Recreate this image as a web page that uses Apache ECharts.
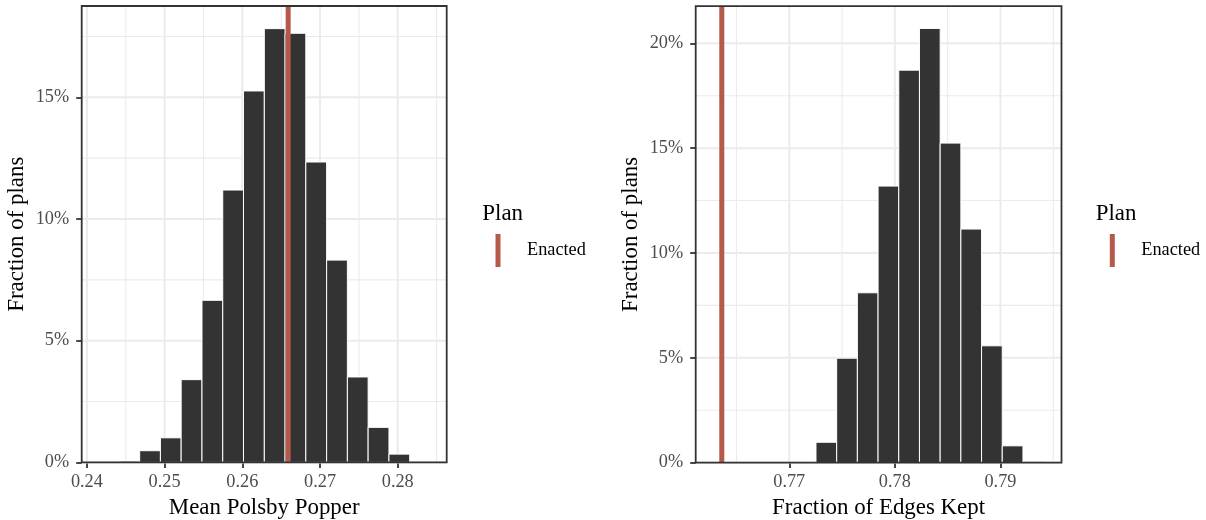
<!DOCTYPE html>
<html>
<head>
<meta charset="utf-8">
<script src="https://cdn.jsdelivr.net/npm/echarts@6/dist/echarts.min.js"></script>
<style>
  html, body { margin: 0; padding: 0; background: #ffffff; }
  #chart { width: 1206px; height: 520px; }
</style>
</head>
<body>
<div id="chart"></div>
<script>
// Histogram of mean Polsby-Popper compactness across simulated plans (bin edges, % of plans)
const ppEdges = [0.24144, 0.24411, 0.24679, 0.24946, 0.25213, 0.25481, 0.25748, 0.26015, 0.26283,
                 0.26550, 0.26817, 0.27085, 0.27352, 0.27619, 0.27887, 0.28154, 0.28421];
const ppShares = [0, 0.05, 0.48, 1.01, 3.40, 6.66, 11.19, 15.26, 17.82, 17.63, 12.34, 8.31, 3.51, 1.44, 0.34, 0];
const ppEnacted = 0.2659;

// Histogram of the fraction of edges kept across simulated plans
const ekEdges = [0.76273, 0.76469, 0.76665, 0.76861, 0.77057, 0.77253, 0.77449, 0.77645, 0.77841,
                 0.78037, 0.78233, 0.78429, 0.78625, 0.78821, 0.79017, 0.79213, 0.79409];
const ekShares = [0, 0, 0, 0, 0, 0.97, 4.98, 8.10, 13.19, 18.72, 20.71, 15.24, 11.14, 5.57, 0.80, 0.06];
const ekEnacted = 0.76361;

// Axis breaks
const ppXBreaks = [0.24, 0.25, 0.26, 0.27, 0.28];
const ppXMinor = [0.245, 0.255, 0.265, 0.275, 0.285];
const ppYBreaks = [0, 5, 10, 15];
const ppYMinor = [2.5, 7.5, 12.5, 17.5];
const ekXBreaks = [0.77, 0.78, 0.79];
const ekXMinor = [0.765, 0.775, 0.785, 0.795];
const ekYBreaks = [0, 5, 10, 15, 20];
const ekYMinor = [2.5, 7.5, 12.5, 17.5];

// Panel ranges
const ppXRange = [0.23933, 0.28630];
const ppYMax = 18.75;
const ekXRange = [0.76114, 0.79578];
const ekYMax = 21.77;

const FONT = "'Liberation Serif', 'DejaVu Serif', serif";
const BAR_FILL = '#333333';
const ENACTED = '#B5594B';
const GRID_COLOR = '#EBEBEB';
const INK = '#333333';

function binRows(edges, shares) {
  return shares.map((s, i) => [edges[i], edges[i + 1], s]);
}

function histSeries(idx, rows) {
  return {
    type: 'custom', xAxisIndex: idx, yAxisIndex: idx, z: 2, silent: true,
    encode: { x: [0, 1], y: 2 },
    data: rows,
    renderItem(params, api) {
      const h = api.value(2);
      if (!(h > 0)) return null;
      const tl = api.coord([api.value(0), h]);
      const br = api.coord([api.value(1), 0]);
      return {
        type: 'rect',
        shape: { x: tl[0], y: tl[1], width: br[0] - tl[0], height: br[1] - tl[1] },
        style: { fill: BAR_FILL, stroke: '#FFFFFF', lineWidth: 1 }
      };
    }
  };
}

function vLines(idx, values, yRef, width, color, z, name) {
  return {
    type: 'custom', name: name, xAxisIndex: idx, yAxisIndex: idx, z: z, silent: true,
    itemStyle: { color: color },
    data: values.map(v => [v, yRef]),
    renderItem(params, api) {
      const cs = params.coordSys;
      const x = api.coord([api.value(0), api.value(1)])[0];
      return {
        type: 'line',
        shape: { x1: x, y1: cs.y, x2: x, y2: cs.y + cs.height },
        style: { stroke: color, lineWidth: width }
      };
    }
  };
}

function hLines(idx, values, xRef, width, color, z) {
  return {
    type: 'custom', xAxisIndex: idx, yAxisIndex: idx, z: z, silent: true,
    data: values.map(v => [xRef, v]),
    renderItem(params, api) {
      const cs = params.coordSys;
      const y = api.coord([api.value(0), api.value(1)])[1];
      return {
        type: 'line',
        shape: { x1: cs.x, y1: y, x2: cs.x + cs.width, y2: y },
        style: { stroke: color, lineWidth: width }
      };
    }
  };
}

function xAxisFor(idx, range, breaks, title) {
  return {
    type: 'value', gridIndex: idx, min: range[0], max: range[1],
    name: title, nameLocation: 'middle', nameGap: 31,
    nameTextStyle: { fontFamily: FONT, fontSize: 22.9, color: '#000000' },
    axisLine: { show: false },
    axisTick: { show: true, customValues: breaks, length: 5.5, lineStyle: { color: INK, width: 1.8 } },
    axisLabel: { customValues: breaks, margin: 11, fontFamily: FONT, fontSize: 18.3, color: '#4D4D4D',
                 formatter: v => v.toFixed(2) },
    splitLine: { show: false }
  };
}

function yAxisFor(idx, yMax, breaks) {
  return {
    type: 'value', gridIndex: idx, min: 0, max: yMax,
    name: 'Fraction of plans', nameLocation: 'middle', nameGap: 53, nameRotate: 90,
    nameTextStyle: { fontFamily: FONT, fontSize: 22.9, color: '#000000' },
    axisLine: { show: false },
    axisTick: { show: true, customValues: breaks, length: 5.5, lineStyle: { color: INK, width: 1.8 } },
    axisLabel: { customValues: breaks, margin: 12.5, fontFamily: FONT, fontSize: 18.3, color: '#4D4D4D',
                 formatter: v => Math.round(v) + '%' },
    splitLine: { show: false }
  };
}

function legendFor(left) {
  return {
    left: left, top: 234, orient: 'vertical', padding: 0, selectedMode: false,
    icon: 'rect', itemWidth: 5, itemHeight: 33,
    data: [{ name: 'Enacted', itemStyle: { color: ENACTED } }],
    textStyle: { fontFamily: FONT, fontSize: 18.3, color: '#000000', padding: [2, 0, 0, 21.5] }
  };
}

const chart = echarts.init(document.getElementById('chart'), null, { renderer: 'canvas' });

chart.setOption({
  backgroundColor: '#FFFFFF',
  animation: false,
  title: [
    { text: 'Plan', left: 482.3, top: 202.5, padding: 0,
      textStyle: { fontFamily: FONT, fontSize: 22.9, fontWeight: 'normal', color: '#000000' } },
    { text: 'Plan', left: 1095.7, top: 202.5, padding: 0,
      textStyle: { fontFamily: FONT, fontSize: 22.9, fontWeight: 'normal', color: '#000000' } }
  ],
  legend: [legendFor(495.5), legendFor(1109.8)],
  grid: [
    { left: 81.7, top: 6, width: 365, height: 456.4, show: true, z: 10,
      outerBoundsMode: 'none', containLabel: false,
      backgroundColor: 'transparent', borderColor: INK, borderWidth: 1.8 },
    { left: 695.7, top: 6.2, width: 365.8, height: 456.4, show: true, z: 10,
      outerBoundsMode: 'none', containLabel: false,
      backgroundColor: 'transparent', borderColor: INK, borderWidth: 1.8 }
  ],
  xAxis: [
    xAxisFor(0, ppXRange, ppXBreaks, 'Mean Polsby Popper'),
    xAxisFor(1, ekXRange, ekXBreaks, 'Fraction of Edges Kept')
  ],
  yAxis: [
    yAxisFor(0, ppYMax, ppYBreaks),
    yAxisFor(1, ekYMax, ekYBreaks)
  ],
  series: [
    // panel grid: minor then major lines
    vLines(0, ppXMinor, 0, 1.1, GRID_COLOR, 0),
    hLines(0, ppYMinor, ppXRange[0], 1.1, GRID_COLOR, 0),
    vLines(0, ppXBreaks, 0, 2, GRID_COLOR, 1),
    hLines(0, ppYBreaks, ppXRange[0], 2, GRID_COLOR, 1),
    vLines(1, ekXMinor, 0, 1.1, GRID_COLOR, 0),
    hLines(1, ekYMinor, ekXRange[0], 1.1, GRID_COLOR, 0),
    vLines(1, ekXBreaks, 0, 2, GRID_COLOR, 1),
    hLines(1, ekYBreaks, ekXRange[0], 2, GRID_COLOR, 1),
    // histograms
    histSeries(0, binRows(ppEdges, ppShares)),
    histSeries(1, binRows(ekEdges, ekShares)),
    // enacted plan reference lines
    vLines(0, [ppEnacted], 0, 5, ENACTED, 3, 'Enacted'),
    vLines(1, [ekEnacted], 0, 5, ENACTED, 3, 'Enacted')
  ]
});
</script>
</body>
</html>
